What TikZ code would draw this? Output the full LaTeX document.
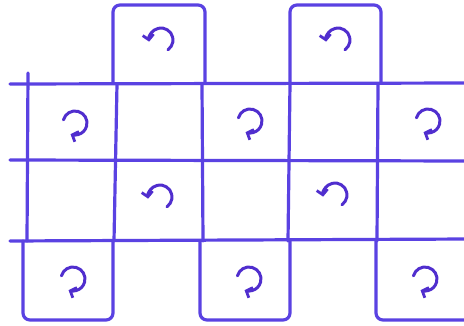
\documentclass[tikz,border=0pt]{standalone}
\usetikzlibrary{arrows.meta}
\definecolor{ink}{RGB}{90,66,226}
\definecolor{arrowink}{RGB}{80,46,206}
\tikzset{
  gridline/.style={draw=ink,line width=3.2pt,line cap=round,line join=round},
  cell/.style={gridline,rounded corners=7pt},
  spin/.style={draw=arrowink,line width=3pt,line cap=round,
    -{Straight Barb[length=5pt,width=11pt,line width=2.8pt]}}
}
\newcommand\ccwspin[1]{\draw[spin] (#1) ++(-55:12) arc[start angle=-55,end angle=188,radius=12];}
\newcommand\cwspin[1]{\draw[spin] (#1) ++(165:12) arc[start angle=165,end angle=-112,radius=12];}
\begin{document}
\begin{tikzpicture}[x=1pt,y=1pt]
\useasboundingbox (0,0) rectangle (464,325);
\clip (0,0) rectangle (464,325);
% horizontal lines
\draw[gridline] (10,241) -- (470,242);
\draw[gridline] (10,165) -- (470,164);
\draw[gridline] (10,84) -- (470,86);
% vertical lines
\draw[gridline] (28,252) -- (27,84);
\draw[gridline] (117,241) -- (114,84);
\draw[gridline] (202,241) -- (203,84);
\draw[gridline] (290,241) -- (288,84);
\draw[gridline] (378,241) -- (377,84);
% top squares
\draw[cell] (113,242) -- (113,320) -- (205,320) -- (205,242);
\draw[cell] (290,242) -- (290,320) -- (381,320) -- (381,242);
% bottom squares
\draw[cell] (23,84) -- (23,5) -- (113,5) -- (113,84);
\draw[cell] (200,84) -- (200,5) -- (290,5) -- (290,84);
\draw[cell] (376,84) -- (376,5) -- (470,5);
% rotation arrows
\ccwspin{161,285}
\ccwspin{338,285}
\ccwspin{160,128}
\ccwspin{335,130}
\cwspin{75,202}
\cwspin{250,204}
\cwspin{428,204}
\cwspin{73,46}
\cwspin{249,46}
\cwspin{425,46}
\end{tikzpicture}
\end{document}
